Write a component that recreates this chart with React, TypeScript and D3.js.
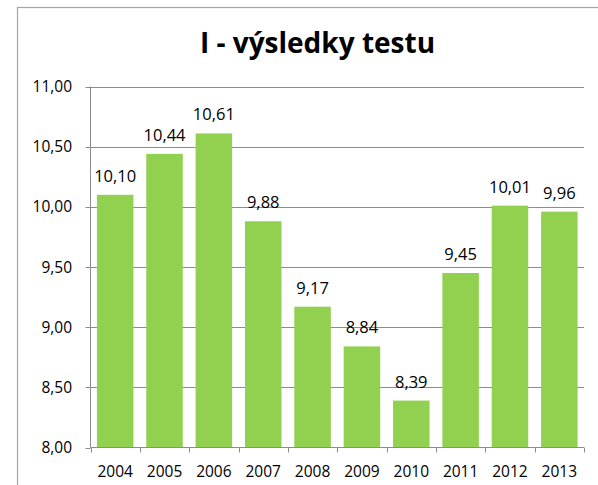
import React from "react";
import * as d3 from "d3";

const categories = ["2004", "2005", "2006", "2007", "2008", "2009", "2010", "2011", "2012", "2013"];
const values = [10.1, 10.44, 10.61, 9.88, 9.17, 8.84, 8.39, 9.45, 10.01, 9.96];
const yTicks = [8, 8.5, 9, 9.5, 10, 10.5, 11];
const title = "I - výsledky testu";

const W = 598;
const H = 485;
const left = 90.5;
const right = 584;
const top = 86.5;
const bottom = 447.5;
const font = "'Open Sans', sans-serif";
const fmt = (v: number) => v.toFixed(2).replace(".", ",");

export default function App() {
  const x = d3.scaleBand<string>().domain(categories).range([left, right]).paddingInner(0.26).paddingOuter(0.13);
  const xb = d3.scaleBand<string>().domain(categories).range([left, right]);
  const y = d3.scaleLinear().domain([8, 11]).range([bottom, top]);
  const grey = "#8c8c8c";
  return (
    <svg width={W} height={H} style={{ position: "absolute", left: 0, top: 0, background: "#fff" }}>
      <rect x={17.5} y={7.5} width={640} height={520} fill="#fff" stroke="#a6a6a6" strokeWidth={1.2} />
      <text x={317.5} y={53} textAnchor="middle" fontFamily={font} fontWeight="bold" fontSize={28} fill="#000">
        {title}
      </text>
      {yTicks.map((t) => (
        <g key={t}>
          {t > 8 && <line x1={left} x2={right} y1={Math.round(y(t)) + 0.5} y2={Math.round(y(t)) + 0.5} stroke={grey} strokeWidth={1} />}
          <line x1={left - 5} x2={left} y1={Math.round(y(t)) + 0.5} y2={Math.round(y(t)) + 0.5} stroke={grey} />
          <text x={72} y={y(t) + 5.5} textAnchor="end" fontFamily={font} fontSize={15.5} fill="#000">
            {fmt(t)}
          </text>
        </g>
      ))}
      {categories.map((c, i) => (
        <g key={c}>
          <rect x={x(c)} y={y(values[i])} width={x.bandwidth()} height={bottom - y(values[i])} fill="#92d050" />
          <text x={x(c)! + x.bandwidth() / 2} y={y(values[i]) - 13} textAnchor="middle" fontFamily={font} fontSize={16.5} fill="#000">
            {fmt(values[i])}
          </text>
          <text x={xb(c)! + xb.bandwidth() / 2} y={476.5} textAnchor="middle" fontFamily={font} fontSize={15.5} fill="#000">
            {c}
          </text>
        </g>
      ))}
      {[...categories.map((c) => xb(c)!), right].map((bx, i) => (
        <line key={i} x1={Math.round(bx) + 0.5} x2={Math.round(bx) + 0.5} y1={bottom} y2={bottom + 5} stroke={grey} />
      ))}
      <line x1={left} x2={left} y1={top} y2={bottom} stroke={grey} />
      <line x1={left} x2={right} y1={bottom} y2={bottom} stroke={grey} />
    </svg>
  );
}
